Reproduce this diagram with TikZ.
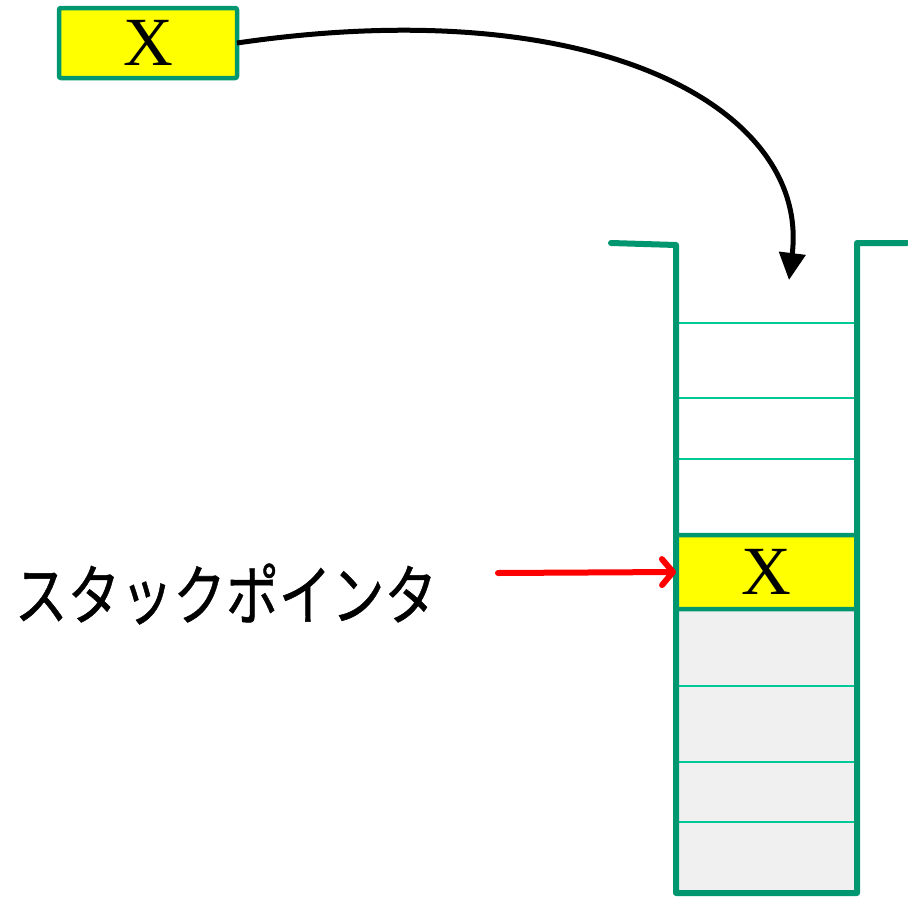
\documentclass[tikz,border=0pt]{standalone}
\usepackage{fontspec}
\setmainfont{Liberation Serif}
\newfontfamily\jpfont[FakeBold=0.8]{Noto Sans CJK JP}
\usetikzlibrary{arrows.meta}
\definecolor{wallgreen}{RGB}{0,150,112}
\definecolor{linegreen}{RGB}{0,200,150}
\definecolor{cellyellow}{RGB}{255,255,0}
\definecolor{cellgray}{RGB}{240,240,240}
\tikzset{
  xbox/.style={draw=wallgreen, line width=4.5pt, fill=cellyellow, rectangle, inner sep=0pt, outer sep=0pt,
    font=\fontsize{69}{69}\selectfont},
  sep/.style={draw=linegreen, line width=2pt},
  wall/.style={draw=wallgreen, line width=6pt, line join=round, line cap=round},
  pushline/.style={draw=black, line width=5pt, -{Triangle[length=27pt,width=26pt]}},
  ptrline/.style={draw=red, line width=6pt, line cap=round, -{Straight Barb[length=11pt,width=26pt,round]}},
  label/.style={font=\jpfont\fontsize{66}{66}\selectfont, inner sep=0pt, xscale=0.8, transform shape}
}
\begin{document}
\begin{tikzpicture}[x=1pt,y=-1pt]
\useasboundingbox (0,0) rectangle (908,897);
% stored items region
\fill[cellgray] (676,609) rectangle (857,893);
\foreach \yy in {323,398,459,686,762,822}
  \draw[sep] (676,\yy) -- (857,\yy);
% top cell
\node[xbox, minimum width=181pt, minimum height=74pt, rounded corners=1pt] (cell) at (766.5,572) {X};
% walls
\draw[wall] (611,243) -- (676,245) -- (676,893) -- (857,893) -- (857,243) -- (907,243);
% item to push
\node[xbox, minimum width=178pt, minimum height=70pt, rounded corners=2pt] (item) at (148,43) {X};
\coordinate (drop) at (789,280);
\draw[pushline] (item.east) .. controls (600,-10) and (810,110) .. (drop);
% stack pointer
\node[label] (sptext) at (226,594) {スタックポインタ};
\coordinate (ptrstart) at (498,573);
\draw[ptrline] (ptrstart) -- (cell.west);
\end{tikzpicture}
\end{document}
